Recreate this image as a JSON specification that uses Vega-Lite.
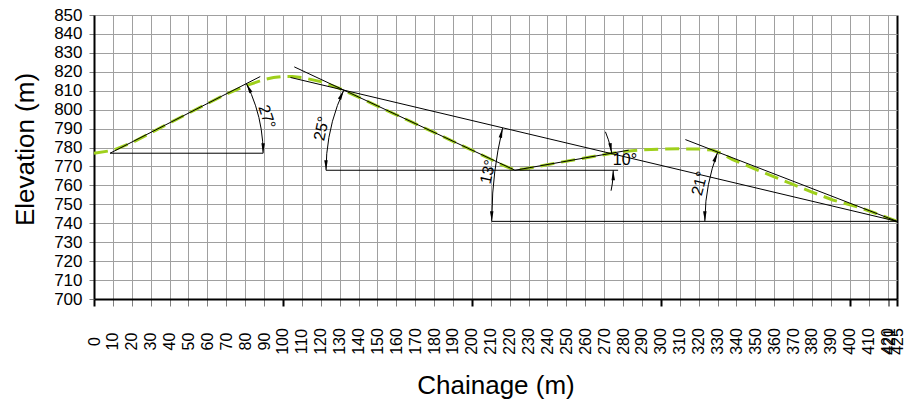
{
  "$schema": "https://vega.github.io/schema/vega-lite/v6.json",
  "width": 803,
  "height": 284,
  "autosize": {"type": "none"},
  "padding": {"left": 94, "top": 15, "right": 8, "bottom": 109},
  "background": "white",
  "config": {"font": "Liberation Sans", "view": {"stroke": null}},
  "datasets": {
    "profile": [
      {"x": 0, "y": 777}, {"x": 10, "y": 778.5}, {"x": 20, "y": 782.5}, {"x": 30, "y": 787.7},
      {"x": 40, "y": 793}, {"x": 50, "y": 798.1}, {"x": 60, "y": 803.2}, {"x": 70, "y": 808.2},
      {"x": 80, "y": 812.5}, {"x": 90, "y": 815.9}, {"x": 95, "y": 817}, {"x": 100, "y": 817.6},
      {"x": 105, "y": 817.5}, {"x": 110, "y": 817}, {"x": 120, "y": 814.8}, {"x": 130, "y": 811.2},
      {"x": 140, "y": 806.6}, {"x": 150, "y": 801.9}, {"x": 160, "y": 797.3}, {"x": 170, "y": 792.6},
      {"x": 180, "y": 788}, {"x": 190, "y": 783.3}, {"x": 200, "y": 778.6}, {"x": 210, "y": 773.8},
      {"x": 216, "y": 770.8}, {"x": 222, "y": 768.4}, {"x": 227, "y": 768.6}, {"x": 235, "y": 770},
      {"x": 245, "y": 771.9}, {"x": 255, "y": 773.6}, {"x": 265, "y": 775.4}, {"x": 275, "y": 777.1},
      {"x": 282, "y": 778.1}, {"x": 290, "y": 778.8}, {"x": 300, "y": 779.2}, {"x": 310, "y": 779.3},
      {"x": 320, "y": 779.2}, {"x": 327, "y": 778.7}, {"x": 332, "y": 777}, {"x": 338, "y": 773.6},
      {"x": 349, "y": 769}, {"x": 360, "y": 764.5}, {"x": 370, "y": 760.5}, {"x": 380, "y": 756.5},
      {"x": 391, "y": 752.3}, {"x": 405, "y": 748.4}, {"x": 415, "y": 744.8}, {"x": 425, "y": 741}
    ],
    "lines": [
      {"seg": "slope27", "x": 8.5, "y": 777}, {"seg": "slope27", "x": 88, "y": 817.5},
      {"seg": "base27", "x": 8.5, "y": 777}, {"seg": "base27", "x": 89.5, "y": 777},
      {"seg": "slope25", "x": 106, "y": 822.6}, {"seg": "slope25", "x": 222.8, "y": 768},
      {"seg": "base25", "x": 122.8, "y": 768}, {"seg": "base25", "x": 277.4, "y": 768},
      {"seg": "slope13", "x": 104, "y": 817}, {"seg": "slope13", "x": 425, "y": 741},
      {"seg": "slope10", "x": 222.8, "y": 768}, {"seg": "slope10", "x": 283, "y": 778.6},
      {"seg": "slope21", "x": 313, "y": 784.2}, {"seg": "slope21", "x": 425, "y": 741},
      {"seg": "base13", "x": 210.5, "y": 741}, {"seg": "base13", "x": 425, "y": 741},
      {"seg": "arc27", "x": 89.5, "y": 777}, {"seg": "arc27", "x": 89.25, "y": 783.36},
      {"seg": "arc27", "x": 88.5, "y": 789.67}, {"seg": "arc27", "x": 87.27, "y": 795.91},
      {"seg": "arc27", "x": 85.54, "y": 802.03}, {"seg": "arc27", "x": 83.34, "y": 808},
      {"seg": "arc27", "x": 80.67, "y": 813.77},
      {"seg": "arc25", "x": 132.17, "y": 810.26}, {"seg": "arc25", "x": 128.83, "y": 802.2},
      {"seg": "arc25", "x": 126.21, "y": 793.88}, {"seg": "arc25", "x": 124.32, "y": 785.36},
      {"seg": "arc25", "x": 123.18, "y": 776.72}, {"seg": "arc25", "x": 122.8, "y": 768},
      {"seg": "arc13", "x": 216.25, "y": 790.35}, {"seg": "arc13", "x": 213.76, "y": 778.24},
      {"seg": "arc13", "x": 212.11, "y": 767.15}, {"seg": "arc13", "x": 211.02, "y": 755.97},
      {"seg": "arc13", "x": 210.5, "y": 741},
      {"seg": "arc21", "x": 330.05, "y": 777.45}, {"seg": "arc21", "x": 327.24, "y": 769.03},
      {"seg": "arc21", "x": 325.17, "y": 760.4}, {"seg": "arc21", "x": 323.86, "y": 751.63},
      {"seg": "arc21", "x": 323.3, "y": 741},
      {"seg": "arc10a", "x": 274.01, "y": 777.03}, {"seg": "arc10a", "x": 273.25, "y": 780.58},
      {"seg": "arc10a", "x": 272.26, "y": 784.07}, {"seg": "arc10a", "x": 270.67, "y": 788.32},
      {"seg": "arc10b", "x": 274.8, "y": 768}, {"seg": "arc10b", "x": 274.68, "y": 764.37},
      {"seg": "arc10b", "x": 274.3, "y": 760.76}, {"seg": "arc10b", "x": 273.66, "y": 757.19}
    ],
    "arrows": [
      {"arrow": "27 top", "x": 80.67, "y": 813.77},
      {"arrow": "27 bottom", "x": 89.5, "y": 777},
      {"arrow": "25 top", "x": 132.17, "y": 810.26},
      {"arrow": "25 bottom", "x": 122.8, "y": 768},
      {"arrow": "13 top", "x": 216.25, "y": 790.35},
      {"arrow": "13 bottom", "x": 210.5, "y": 741},
      {"arrow": "10 top", "x": 274.01, "y": 777.03},
      {"arrow": "10 bottom", "x": 274.8, "y": 768},
      {"arrow": "21 top", "x": 330.05, "y": 777.45},
      {"arrow": "21 bottom", "x": 323.3, "y": 741}
    ]
  },
  "encoding": {
    "x": {
      "field": "x", "type": "quantitative",
      "scale": {"domain": [0, 425], "nice": false, "zero": false},
      "axis": {
        "values": [0, 10, 20, 30, 40, 50, 60, 70, 80, 90, 100, 110, 120, 130, 140, 150, 160, 170, 180, 190, 200, 210, 220, 230, 240, 250, 260, 270, 280, 290, 300, 310, 320, 330, 340, 350, 360, 370, 380, 390, 400, 410, 420, 421, 425],
        "format": "d",
        "title": "Chainage (m)",
        "titleFontSize": 26, "titleFontWeight": "normal", "titleColor": "black",
        "titleX": 401.5, "titleY": 94, "titleAlign": "center", "titleBaseline": "alphabetic",
        "labelAngle": 270, "labelAlign": "center", "labelBaseline": "middle",
        "labelFontSize": 16, "labelColor": "black", "labelPadding": 35,
        "labelOverlap": false, "labelFlush": false, "labelBound": false,
        "tickSize": 7,
        "tickColor": {"condition": {"test": "indexof([0,100,200,300,400,425], datum.value) >= 0", "value": "black"}, "value": "#808080"},
        "tickWidth": {"condition": {"test": "indexof([0,100,200,300,400,425], datum.value) >= 0", "value": 2}, "value": 1},
        "domainColor": "black", "domainWidth": 2,
        "grid": true,
        "gridColor": {"condition": [{"test": "datum.value == 425", "value": "black"}, {"test": "datum.value == 421", "value": "transparent"}], "value": "#a0a0a0"},
        "gridWidth": {"condition": {"test": "datum.value == 425", "value": 2}, "value": 1}
      }
    },
    "y": {
      "field": "y", "type": "quantitative",
      "scale": {"domain": [700, 850], "nice": false, "zero": false},
      "axis": {
        "values": [700, 710, 720, 730, 740, 750, 760, 770, 780, 790, 800, 810, 820, 830, 840, 850],
        "format": "d",
        "title": "Elevation (m)",
        "titleFontSize": 26, "titleFontWeight": "normal", "titleColor": "black",
        "titleX": -61, "titleY": 134, "titleAlign": "center", "titleBaseline": "alphabetic", "titleAngle": 270,
        "labelFontSize": 17, "labelColor": "black", "labelPadding": 7,
        "labelOverlap": false, "labelFlush": false, "labelBound": false,
        "tickSize": 5, "tickColor": "#808080",
        "domainColor": "black", "domainWidth": 2,
        "grid": true, "gridColor": "#a0a0a0", "gridWidth": 1
      }
    }
  },
  "layer": [
    {
      "data": {"name": "profile"},
      "mark": {"type": "line", "color": "#9fd01c", "strokeWidth": 3, "strokeDash": [14, 7]}
    },
    {
      "data": {"name": "lines"},
      "mark": {"type": "line", "color": "black", "strokeWidth": 1},
      "encoding": {"detail": {"field": "seg", "type": "nominal"}}
    },
    {
      "data": {"name": "arrows"},
      "transform": [{"filter": {"field": "arrow", "oneOf": ["27 bottom", "25 bottom", "13 bottom", "21 bottom"]}}],
      "mark": {"type": "point", "shape": "M0,0L0.35,2L-0.35,2Z", "filled": true, "color": "black", "opacity": 1, "size": 100, "strokeWidth": 0, "angle": 180}
    },
    {
      "data": {"name": "arrows"},
      "transform": [{"filter": {"field": "arrow", "oneOf": ["10 bottom"]}}],
      "mark": {"type": "point", "shape": "M0,0L0.35,2L-0.35,2Z", "filled": true, "color": "black", "opacity": 1, "size": 100, "strokeWidth": 0, "angle": 0}
    },
    {
      "data": {"name": "arrows"},
      "transform": [{"filter": {"field": "arrow", "oneOf": ["10 top"]}}],
      "mark": {"type": "point", "shape": "M0,0L0.35,2L-0.35,2Z", "filled": true, "color": "black", "opacity": 1, "size": 100, "strokeWidth": 0, "angle": 170}
    },
    {
      "data": {"name": "arrows"},
      "transform": [{"filter": {"field": "arrow", "oneOf": ["27 top"]}}],
      "mark": {"type": "point", "shape": "M0,0L0.35,2L-0.35,2Z", "filled": true, "color": "black", "opacity": 1, "size": 100, "strokeWidth": 0, "angle": 333}
    },
    {
      "data": {"name": "arrows"},
      "transform": [{"filter": {"field": "arrow", "oneOf": ["25 top"]}}],
      "mark": {"type": "point", "shape": "M0,0L0.35,2L-0.35,2Z", "filled": true, "color": "black", "opacity": 1, "size": 100, "strokeWidth": 0, "angle": 25}
    },
    {
      "data": {"name": "arrows"},
      "transform": [{"filter": {"field": "arrow", "oneOf": ["13 top"]}}],
      "mark": {"type": "point", "shape": "M0,0L0.35,2L-0.35,2Z", "filled": true, "color": "black", "opacity": 1, "size": 100, "strokeWidth": 0, "angle": 13}
    },
    {
      "data": {"name": "arrows"},
      "transform": [{"filter": {"field": "arrow", "oneOf": ["21 top"]}}],
      "mark": {"type": "point", "shape": "M0,0L0.35,2L-0.35,2Z", "filled": true, "color": "black", "opacity": 1, "size": 100, "strokeWidth": 0, "angle": 21}
    },
    {
      "data": {"values": [{"label": "27°", "x": 91.4, "y": 796.2}]},
      "mark": {"type": "text", "angle": 72, "fontSize": 16, "color": "black", "align": "center", "baseline": "middle"},
      "encoding": {"text": {"field": "label", "type": "nominal"}}
    },
    {
      "data": {"values": [{"label": "25°", "x": 120.5, "y": 790}]},
      "mark": {"type": "text", "angle": 282, "fontSize": 16, "color": "black", "align": "center", "baseline": "middle"},
      "encoding": {"text": {"field": "label", "type": "nominal"}}
    },
    {
      "data": {"values": [{"label": "13°", "x": 208.6, "y": 767.1}]},
      "mark": {"type": "text", "angle": 283, "fontSize": 16, "color": "black", "align": "center", "baseline": "middle"},
      "encoding": {"text": {"field": "label", "type": "nominal"}}
    },
    {
      "data": {"values": [{"label": "10°", "x": 281, "y": 773.3}]},
      "mark": {"type": "text", "angle": 0, "fontSize": 16, "color": "black", "align": "center", "baseline": "middle"},
      "encoding": {"text": {"field": "label", "type": "nominal"}}
    },
    {
      "data": {"values": [{"label": "21°", "x": 320.6, "y": 761}]},
      "mark": {"type": "text", "angle": 285, "fontSize": 16, "color": "black", "align": "center", "baseline": "middle"},
      "encoding": {"text": {"field": "label", "type": "nominal"}}
    }
  ]
}
